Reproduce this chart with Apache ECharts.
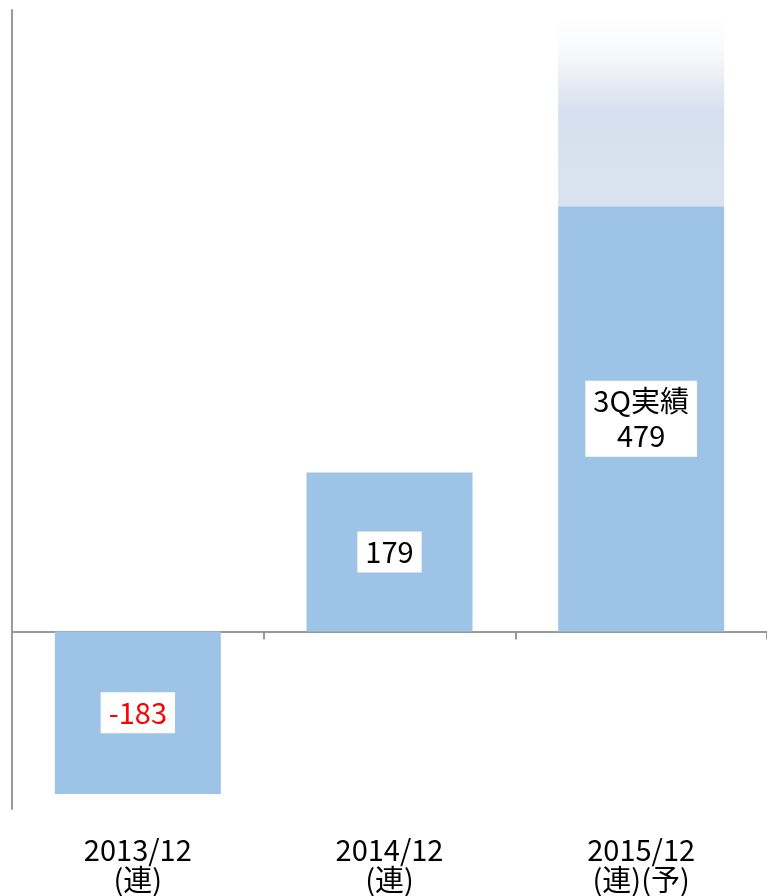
<!DOCTYPE html>
<html>
<head>
<meta charset="utf-8">
<script src="https://cdn.jsdelivr.net/npm/echarts@6/dist/echarts.min.js"></script>
<style>
html,body{margin:0;padding:0;background:#fff;}
#chart{width:767px;height:896px;}
</style>
</head>
<body>
<div id="chart"></div>
<script>
const categories = ['2013/12\n(連)', '2014/12\n(連)', '2015/12\n(連)(予)'];
const actualValues = [-183, 179, 479];
const forecastTotals = [null, null, 695];
const labelPrefixes = ['', '', '3Q実績'];

const FONT = "'Noto Sans CJK JP', 'Noto Sans', sans-serif";
const AXIS_COLOR = '#999999';

const actualData = actualValues.map((v, i) => ({
  value: v,
  label: {
    color: v < 0 ? '#FF0000' : '#000000',
    formatter: () => (labelPrefixes[i] ? labelPrefixes[i] + '\n' : '') + String(v)
  }
}));
const remainderData = forecastTotals.map((t, i) => t == null ? null : t - actualValues[i]);

const chart = echarts.init(document.getElementById('chart'));
chart.setOption({
  animation: false,
  backgroundColor: '#ffffff',
  grid: { left: 12, width: 760, top: 10, height: 799, containLabel: false },
  xAxis: [
    {
      type: 'category',
      data: categories,
      axisLine: { show: true, onZero: true, lineStyle: { color: AXIS_COLOR, width: 2 } },
      axisTick: { show: true, length: 8, lineStyle: { color: AXIS_COLOR, width: 2 } },
      axisLabel: { show: false },
      splitLine: { show: false }
    },
    {
      type: 'category',
      data: categories,
      position: 'bottom',
      axisLine: { show: false, onZero: false },
      axisTick: { show: false },
      axisLabel: {
        show: true, margin: 26, color: '#000000', fontSize: 29, lineHeight: 30,
        fontFamily: FONT, align: 'center'
      },
      splitLine: { show: false }
    }
  ],
  yAxis: {
    type: 'value',
    min: -200,
    max: 700,
    axisLine: { show: true, lineStyle: { color: AXIS_COLOR, width: 2 } },
    axisTick: { show: false },
    axisLabel: { show: false },
    splitLine: { show: false }
  },
  series: [
    {
      type: 'bar',
      stack: 'total',
      barWidth: 166,
      xAxisIndex: 0,
      data: actualData,
      itemStyle: { color: '#9DC3E6' },
      label: {
        show: true,
        position: 'inside',
        fontFamily: FONT,
        fontSize: 29,
        lineHeight: 35,
        backgroundColor: '#ffffff',
        padding: [3, 8, 3, 8]
      }
    },
    {
      type: 'bar',
      stack: 'total',
      barWidth: 166,
      xAxisIndex: 0,
      data: remainderData,
      itemStyle: {
        color: new echarts.graphic.LinearGradient(0, 0, 0, 1, [
          { offset: 0, color: '#FFFFFF' },
          { offset: 0.18, color: '#F9FAFC' },
          { offset: 0.27, color: '#F0F3F8' },
          { offset: 0.36, color: '#E6ECF4' },
          { offset: 0.45, color: '#DCE4EF' },
          { offset: 0.52, color: '#D5E0EE' },
          { offset: 1, color: '#DAE4F0' }
        ])
      },
      label: { show: false }
    }
  ]
});
</script>
</body>
</html>
